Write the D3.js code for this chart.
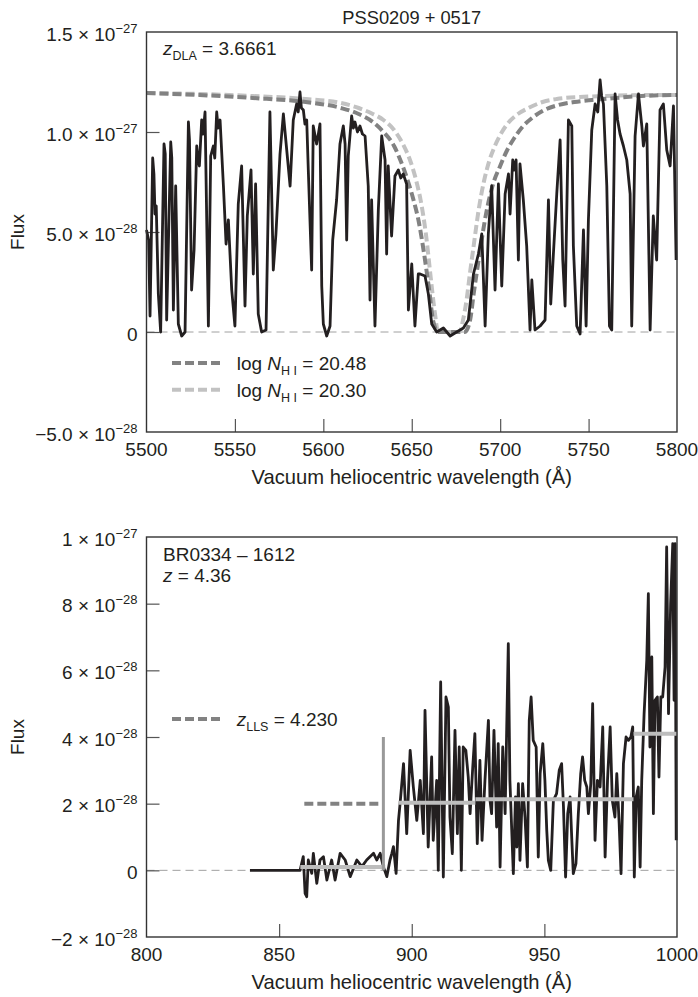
<!DOCTYPE html>
<html><head><meta charset="utf-8">
<script src="https://cdn.jsdelivr.net/npm/d3@7"></script>
<style>body{margin:0;background:#fff}svg{display:block}</style>
</head><body>
<script>
// ---------- DATA (flux in units of 1e-28) ----------
const topWave = [5500.0,5501.2,5502.0,5503.5,5504.2,5504.8,5505.5,5506.7,5508.0,5509.9,5510.6,5511.4,5513.7,5514.3,5515.2,5516.5,5518.0,5519.9,5521.8,5523.7,5524.3,5525.5,5526.9,5528.4,5529.2,5529.9,5531.2,5532.0,5533.1,5535.0,5536.3,5537.8,5538.6,5539.7,5540.5,5541.6,5543.5,5545.0,5546.3,5548.2,5550.0,5551.9,5553.8,5555.7,5557.0,5559.1,5560.4,5561.7,5563.2,5565.1,5567.6,5569.8,5571.7,5573.2,5575.5,5577.4,5579.3,5581.2,5583.0,5584.9,5585.8,5586.8,5587.6,5588.7,5589.6,5590.6,5591.5,5593.4,5594.3,5596.2,5597.2,5598.1,5599.1,5600.0,5601.9,5603.8,5605.3,5607.5,5609.4,5611.3,5612.3,5613.2,5614.1,5616.0,5617.0,5617.9,5619.3,5620.7,5622.1,5623.6,5625.4,5626.4,5627.3,5629.2,5631.1,5633.0,5634.9,5635.8,5636.7,5638.6,5640.5,5642.4,5643.8,5645.2,5647.1,5648.1,5650.0,5651.8,5653.7,5654.7,5657.5,5659.4,5661.3,5664.1,5667.9,5671.7,5675.4,5679.2,5682.0,5684.9,5687.7,5689.6,5691.5,5693.3,5695.2,5697.1,5699.0,5700.9,5702.8,5704.7,5705.6,5707.1,5708.0,5709.0,5710.3,5711.2,5713.1,5715.0,5716.9,5717.9,5719.7,5722.6,5725.4,5727.3,5728.6,5730.1,5732.0,5733.9,5735.4,5736.7,5738.6,5740.5,5741.4,5743.3,5745.2,5747.1,5748.6,5749.9,5751.8,5753.7,5755.2,5756.5,5757.4,5758.4,5760.3,5761.8,5763.1,5765.0,5766.4,5767.8,5769.7,5771.6,5773.5,5774.4,5776.3,5778.2,5780.1,5781.0,5782.9,5784.8,5786.6,5788.5,5790.4,5792.3,5794.2,5796.1,5798.0,5799.5];
const topFlux = [5.1,4.6,0.8,8.7,7.9,5.9,6.3,1.9,0.0,9.4,8.9,0.6,9.5,8.7,1.1,7.3,0.4,-0.2,0.0,10.5,9.6,2.1,4.1,9.3,8.6,8.3,10.6,9.9,11.0,0.3,8.8,9.3,8.7,11.0,10.2,10.6,7.3,4.4,5.6,2.1,0.3,6.4,8.3,1.3,5.8,8.1,2.9,7.4,0.9,0.0,0.1,11.0,3.1,4.9,8.9,10.9,9.1,7.3,10.6,11.4,11.0,12.0,11.2,11.1,10.4,10.6,8.1,3.1,10.3,9.4,9.9,10.4,2.3,0.4,-0.2,0.3,4.6,6.6,9.4,10.3,9.4,4.6,8.8,10.8,10.2,10.5,10.0,10.3,9.9,9.8,7.3,1.6,6.6,0.3,6.1,9.8,8.6,3.9,8.3,4.8,7.8,8.1,7.7,7.9,7.4,1.1,3.4,0.3,2.9,2.9,2.8,1.9,0.4,0.0,0.2,-0.2,0.0,0.2,0.6,2.9,3.9,4.9,0.3,4.9,7.3,2.1,7.4,2.3,6.9,7.9,5.9,8.6,8.1,8.6,3.6,8.4,6.6,4.3,0.1,2.6,0.1,0.3,0.6,6.6,1.4,3.9,6.9,9.6,3.6,1.3,10.6,10.3,4.3,0.3,-0.1,5.1,0.3,5.6,10.1,11.4,11.0,12.6,11.8,11.4,7.3,0.3,0.1,11.9,10.6,9.9,9.3,8.6,6.9,0.3,9.8,11.9,10.3,9.3,10.4,0.1,5.8,3.6,11.1,11.4,9.1,8.3,11.3,3.6];

// damped profile fits
const fitHighWave = [5500,5530,5560,5590,5610,5620,5628,5634,5640,5644,5648,5651,5654,5657,5660,5662,5665,5680,5683,5685,5688,5692,5696,5700,5704,5708,5713,5718,5725,5733,5742,5752,5765,5780,5800];
const fitHighFlux = [11.95,11.85,11.7,11.5,11.2,10.9,10.5,10.0,9.3,8.5,7.5,6.6,5.5,3.9,2.0,0.6,0.0,0.0,0.6,1.9,3.7,5.9,7.4,8.3,9.1,9.7,10.3,10.7,11.1,11.35,11.5,11.6,11.7,11.8,11.85];
const fitLowWave = [5500,5530,5560,5590,5610,5620,5628,5634,5640,5645,5649,5653,5655,5658,5661,5663,5665,5677,5679,5681,5683,5685,5688,5691,5694,5697,5701,5705,5710,5716,5724,5732,5745,5760,5780,5800];
const fitLowFlux = [11.95,11.9,11.8,11.65,11.45,11.2,10.9,10.6,10.1,9.4,8.6,7.4,6.6,4.9,2.5,1.0,0.0,0.0,0.6,1.6,3.0,4.3,6.2,7.6,8.6,9.3,10.0,10.5,10.9,11.2,11.5,11.65,11.75,11.8,11.85,11.85];

const botWave = [839.0,857.9,859.1,859.8,860.4,861.0,862.3,862.9,864.2,865.4,866.7,868.0,869.8,871.1,873.0,874.9,876.8,879.3,881.2,883.0,885.6,886.8,888.1,889.3,890.6,891.8,892.5,893.1,894.1,895.0,895.6,896.9,898.1,899.4,900.6,901.9,903.2,904.4,905.0,906.2,907.5,908.1,909.4,910.0,910.9,911.9,912.9,913.8,914.4,915.3,916.3,917.2,917.9,918.7,919.4,920.4,921.3,922.0,923.0,923.8,924.7,925.7,926.5,927.6,928.9,929.5,930.1,931.0,932.0,932.6,933.3,934.3,935.2,936.4,937.0,938.3,939.1,939.6,940.2,940.8,941.8,942.7,943.6,944.3,945.0,945.8,946.9,947.7,948.4,949.4,950.2,950.9,951.5,952.4,953.4,954.6,955.6,956.5,957.2,958.0,958.8,959.7,960.3,960.9,961.9,962.8,963.7,964.4,965.2,966.0,966.6,967.5,968.2,969.1,970.0,971.0,972.0,972.9,973.8,974.8,975.6,976.6,977.3,978.2,978.9,979.8,980.8,981.7,982.6,983.3,983.9,984.6,985.4,986.1,986.7,987.6,988.6,989.2,989.8,990.5,991.1,991.7,992.6,993.2,993.9,994.6,995.5,996.1,996.8,997.6,998.4,998.9,999.3,999.7];
const botFlux = [0.0,0.0,0.41,-0.69,-0.79,0.31,-0.09,0.51,-0.39,0.31,0.41,-0.29,0.31,-0.29,0.51,0.31,-0.19,0.31,0.11,0.31,0.51,0.31,0.51,0.11,-0.19,0.31,0.51,0.71,-0.09,1.5,2.0,3.2,1.1,3.6,2.5,1.5,2.7,1.1,4.8,0.7,3.4,0.9,2.7,0.0,5.65,-0.2,5.2,4.9,1.6,0.5,4.2,1.1,3.7,0.0,3.7,3.6,2.8,1.7,3.1,4.1,0.8,3.3,0.9,2.7,4.5,2.1,1.7,4.2,1.3,3.8,0.1,3.7,1.7,6.8,2.7,-0.1,2.2,0.7,2.6,0.3,2.6,1.6,0.1,4.5,5.2,3.9,3.7,0.4,2.9,3.8,2.7,1.2,0.3,0.0,2.1,2.3,3.0,3.2,1.9,-0.2,1.7,2.2,1.0,-0.1,0.2,1.7,2.9,3.4,2.7,2.5,1.7,2.6,5.0,0.9,2.7,2.5,4.3,0.4,2.7,4.3,2.1,1.6,2.9,1.4,-0.1,3.2,4.0,3.9,4.0,4.3,-0.2,2.2,2.5,0.1,2.7,4.7,6.3,8.3,3.7,6.4,1.7,5.1,5.2,2.8,5.2,5.2,6.1,9.7,4.7,8.0,9.8,5.1,9.8,0.9];

// mean-flux steps (solid light grey) and LLS marks
const stepStart = [858, 895, 924, 983.6];
const stepEnd   = [890, 924, 983.6, 1000];
const stepFlux  = [0.1, 2.03, 2.13, 4.1];
const llsWave = 889.3, llsTop = 4.0;
const llsDashStart = 859.5, llsDashEnd = 887.8, llsDashFlux = 2.0;

// ticks
const topXTicks = [5500,5550,5600,5650,5700,5750,5800];
const topYTicks = [15,10,5,0,-5];
const topYLabels = [["1.5 \u00d7 10","\u221227"],["1.0 \u00d7 10","\u221227"],["5.0 \u00d7 10","\u221228"],["0",""],["\u22125.0 \u00d7 10","\u221228"]];
const botXTicks = [800,850,900,950,1000];
const botYTicks = [10,8,6,4,2,0,-2];
const botYLabels = [["1 \u00d7 10","\u221227"],["8 \u00d7 10","\u221228"],["6 \u00d7 10","\u221228"],["4 \u00d7 10","\u221228"],["2 \u00d7 10","\u221228"],["0",""],["\u22122 \u00d7 10","\u221228"]];

// ---------- DRAW ----------
const W = 698, H = 997;
const FONT = "'Liberation Sans', Arial, sans-serif";
const INK = "#231f20";
const svg = d3.select("body").append("svg").attr("width", W).attr("height", H)
  .style("font-family", FONT).style("fill", INK);

const L = 146.5, R = 677;

function panel(cfg) {
  const x = d3.scaleLinear().domain(cfg.xDomain).range([L, R]);
  const y = d3.scaleLinear().domain(cfg.yDomain).range([cfg.bottom, cfg.top]);
  const g = svg.append("g");
  g.append("line").attr("x1", L).attr("x2", R).attr("y1", y(0)).attr("y2", y(0))
    .attr("stroke", "#a0a0a0").attr("stroke-width", 1).attr("stroke-dasharray", "8,5");
  const xa = d3.axisBottom(x).tickValues(cfg.xTicks.slice(1, -1)).tickSize(-13).tickFormat("");
  g.append("g").attr("transform", `translate(0,${cfg.bottom})`).call(xa)
    .call(s => s.select(".domain").remove())
    .selectAll("line").attr("stroke", "#555").attr("stroke-width", 1.2);
  const ya = d3.axisLeft(y).tickValues(cfg.yTicks.slice(1, -1)).tickSize(-13).tickFormat("");
  g.append("g").attr("transform", `translate(${L},0)`).call(ya)
    .call(s => s.select(".domain").remove())
    .selectAll("line").attr("stroke", "#555").attr("stroke-width", 1.2);
  g.selectAll(".xl").data(cfg.xTicks).join("text")
    .attr("x", d => x(d)).attr("y", cfg.bottom + 24).attr("text-anchor", "middle")
    .attr("font-size", 19).text(d => d);
  cfg.yTicks.forEach((v, i) => {
    const [m, e] = cfg.yLabels[i];
    const t = g.append("text").attr("x", 137.5).attr("y", y(v) + 8.5)
      .attr("text-anchor", "end").attr("font-size", 19);
    t.append("tspan").text(m);
    if (e) t.append("tspan").attr("font-size", 13).attr("dy", -8).text(e);
  });
  g.append("text").attr("x", (L + R) / 2).attr("y", cfg.bottom + 52).attr("text-anchor", "middle")
    .attr("font-size", 20.2).text("Vacuum heliocentric wavelength (\u00c5)");
  g.append("text").attr("transform", `translate(24,${(cfg.top + cfg.bottom) / 2}) rotate(-90)`)
    .attr("text-anchor", "middle").attr("font-size", 19).text("Flux");
  return {x, y, g};
}

// ---- top panel ----
const T = panel({xDomain: [5500, 5800], yDomain: [-5, 15], top: 32, bottom: 432,
  xTicks: topXTicks, yTicks: topYTicks, yLabels: topYLabels});
const lineT = d3.line().x(d => T.x(d[0])).y(d => T.y(d[1])).curve(d3.curveMonotoneX);
T.g.append("path").datum(d3.zip(fitLowWave, fitLowFlux)).attr("d", lineT)
  .attr("fill", "none").attr("stroke", "#c2c2c2").attr("stroke-width", 4).attr("stroke-dasharray", "9,4");
T.g.append("path").datum(d3.zip(fitHighWave, fitHighFlux)).attr("d", lineT)
  .attr("fill", "none").attr("stroke", "#828282").attr("stroke-width", 4).attr("stroke-dasharray", "9,4");
T.g.append("path").datum(d3.zip(topWave, topFlux))
  .attr("d", d3.line().x(d => T.x(d[0])).y(d => T.y(d[1])))
  .attr("fill", "none").attr("stroke", INK).attr("stroke-width", 2.8).attr("stroke-linejoin", "round");
svg.append("rect").attr("x", L).attr("y", 32).attr("width", R - L).attr("height", 400)
  .attr("fill", "none").attr("stroke", "#333").attr("stroke-width", 1.4);
svg.append("text").attr("x", (L + R) / 2).attr("y", 24).attr("text-anchor", "middle")
  .attr("font-size", 18.3).text("PSS0209 + 0517");
{
  const t = svg.append("text").attr("x", 163).attr("y", 55).attr("font-size", 19);
  t.append("tspan").attr("font-style", "italic").text("z");
  t.append("tspan").attr("font-size", 12.5).attr("dy", 5).text("DLA");
  t.append("tspan").attr("dy", -5).text(" = 3.6661");
}
const legTop = [{c: "#828282", v: "20.48", y: 370}, {c: "#c2c2c2", v: "20.30", y: 396.7}];
legTop.forEach(d => {
  svg.append("line").attr("x1", 172).attr("x2", 220).attr("y1", d.y - 7).attr("y2", d.y - 7)
    .attr("stroke", d.c).attr("stroke-width", 4).attr("stroke-dasharray", "9,4");
  const t = svg.append("text").attr("x", 236.7).attr("y", d.y).attr("font-size", 19);
  t.append("tspan").text("log ");
  t.append("tspan").attr("font-style", "italic").text("N");
  t.append("tspan").attr("font-size", 12.5).attr("dy", 5).text("H I");
  t.append("tspan").attr("dy", -5).text(" = " + d.v);
});

// ---- bottom panel ----
const B = panel({xDomain: [800, 1000], yDomain: [-2, 10], top: 537, bottom: 937,
  xTicks: botXTicks, yTicks: botYTicks, yLabels: botYLabels});
B.g.append("path").datum(d3.zip(botWave, botFlux))
  .attr("d", d3.line().x(d => B.x(d[0])).y(d => B.y(d[1])))
  .attr("fill", "none").attr("stroke", INK).attr("stroke-width", 2.8).attr("stroke-linejoin", "round");
B.g.selectAll(".step").data(d3.range(stepStart.length)).join("line")
  .attr("x1", i => B.x(stepStart[i])).attr("x2", i => B.x(stepEnd[i]))
  .attr("y1", i => B.y(stepFlux[i])).attr("y2", i => B.y(stepFlux[i]))
  .attr("stroke", "#bdbdbd").attr("stroke-width", 4);
B.g.append("line").attr("x1", B.x(llsWave)).attr("x2", B.x(llsWave))
  .attr("y1", B.y(0)).attr("y2", B.y(llsTop)).attr("stroke", "#999").attr("stroke-width", 3);
B.g.append("line").attr("x1", B.x(llsDashStart)).attr("x2", B.x(llsDashEnd))
  .attr("y1", B.y(llsDashFlux)).attr("y2", B.y(llsDashFlux))
  .attr("stroke", "#828282").attr("stroke-width", 4).attr("stroke-dasharray", "9,4");
svg.append("rect").attr("x", L).attr("y", 537).attr("width", R - L).attr("height", 400)
  .attr("fill", "none").attr("stroke", "#333").attr("stroke-width", 1.4);
svg.append("text").attr("x", 163).attr("y", 560.7).attr("font-size", 19).text("BR0334 \u2013 1612");
{
  const t = svg.append("text").attr("x", 163).attr("y", 581.7).attr("font-size", 19);
  t.append("tspan").attr("font-style", "italic").text("z");
  t.append("tspan").text(" = 4.36");
}
svg.append("line").attr("x1", 172).attr("x2", 220).attr("y1", 719).attr("y2", 719)
  .attr("stroke", "#828282").attr("stroke-width", 4).attr("stroke-dasharray", "9,4");
{
  const t = svg.append("text").attr("x", 236.7).attr("y", 725.5).attr("font-size", 19);
  t.append("tspan").attr("font-style", "italic").text("z");
  t.append("tspan").attr("font-size", 12.5).attr("dy", 5).text("LLS");
  t.append("tspan").attr("dy", -5).text(" = 4.230");
}
</script>
</body></html>
